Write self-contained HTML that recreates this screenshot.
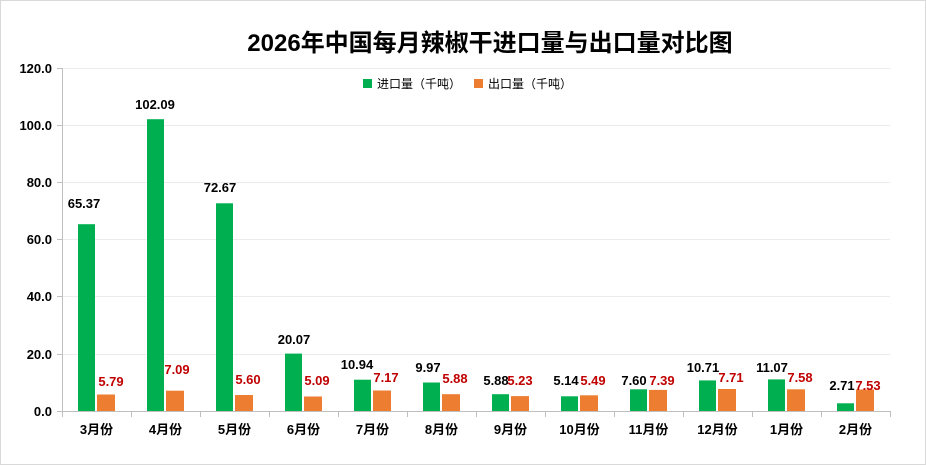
<!DOCTYPE html>
<html><head><meta charset="utf-8"><style>
html,body{margin:0;padding:0;background:#fff}
svg{display:block;font-family:"Liberation Sans","Noto Sans CJK SC",sans-serif}
.g{fill:#00b050}.o{fill:#ed7d31}
.lb{font-size:13px;font-weight:bold;fill:#000;text-anchor:middle}
.lr{font-size:13px;font-weight:bold;fill:#c00000;text-anchor:middle}
.ax{font-size:13px;font-weight:bold;fill:#000;text-anchor:end}
.cx{font-size:13px;font-weight:bold;fill:#000;text-anchor:middle}
</style></head><body>
<svg width="926" height="465" viewBox="0 0 926 465">
<rect x="0.5" y="0.5" width="925" height="464" fill="#fff" stroke="#d9d9d9"/>
<text x="490" y="51" font-size="24" font-weight="bold" text-anchor="middle">2026年中国每月辣椒干进口量与出口量对比图</text>
<g stroke="#ececec" stroke-width="1">
<line x1="62" y1="68.5" x2="890" y2="68.5"/><line x1="62" y1="125.5" x2="890" y2="125.5"/>
<line x1="62" y1="182.5" x2="890" y2="182.5"/><line x1="62" y1="239.5" x2="890" y2="239.5"/>
<line x1="62" y1="296.5" x2="890" y2="296.5"/><line x1="62" y1="354.5" x2="890" y2="354.5"/>
</g>
<g stroke="#bfbfbf" stroke-width="1">
<line x1="62.5" y1="68" x2="62.5" y2="411"/>
<line x1="57" y1="68.5" x2="62" y2="68.5"/><line x1="57" y1="125.5" x2="62" y2="125.5"/><line x1="57" y1="182.5" x2="62" y2="182.5"/><line x1="57" y1="239.5" x2="62" y2="239.5"/><line x1="57" y1="296.5" x2="62" y2="296.5"/><line x1="57" y1="354.5" x2="62" y2="354.5"/><line x1="57" y1="411.5" x2="62" y2="411.5"/>
<line x1="62" y1="411.5" x2="890" y2="411.5"/>
<line x1="62.5" y1="411" x2="62.5" y2="417"/><line x1="131.5" y1="411" x2="131.5" y2="417"/><line x1="200.5" y1="411" x2="200.5" y2="417"/><line x1="269.5" y1="411" x2="269.5" y2="417"/><line x1="338.5" y1="411" x2="338.5" y2="417"/><line x1="407.5" y1="411" x2="407.5" y2="417"/><line x1="476.5" y1="411" x2="476.5" y2="417"/><line x1="545.5" y1="411" x2="545.5" y2="417"/><line x1="614.5" y1="411" x2="614.5" y2="417"/><line x1="683.5" y1="411" x2="683.5" y2="417"/><line x1="752.5" y1="411" x2="752.5" y2="417"/><line x1="821.5" y1="411" x2="821.5" y2="417"/><line x1="890.5" y1="411" x2="890.5" y2="417"/>
</g>
<text class="ax" x="52" y="73">120.0</text><text class="ax" x="52" y="130">100.0</text><text class="ax" x="52" y="187">80.0</text><text class="ax" x="52" y="244">60.0</text><text class="ax" x="52" y="301">40.0</text><text class="ax" x="52" y="359">20.0</text><text class="ax" x="52" y="416">0.0</text>
<rect class="g" x="363" y="79" width="9" height="9"/><text x="377" y="88" font-size="12">进口量（千吨）</text>
<rect class="o" x="474" y="79" width="9" height="9"/><text x="488" y="88" font-size="12">出口量（千吨）</text>
<rect class="g" x="78" y="224.2" width="17" height="186.8"/><rect class="o" x="97" y="394.5" width="18" height="16.5"/>
<rect class="g" x="147" y="119.2" width="17" height="291.8"/><rect class="o" x="166" y="390.7" width="18" height="20.3"/>
<rect class="g" x="216" y="203.3" width="17" height="207.7"/><rect class="o" x="235" y="395" width="18" height="16"/>
<rect class="g" x="285" y="353.6" width="17" height="57.4"/><rect class="o" x="304" y="396.5" width="18" height="14.5"/>
<rect class="g" x="354" y="379.7" width="17" height="31.3"/><rect class="o" x="373" y="390.5" width="18" height="20.5"/>
<rect class="g" x="423" y="382.5" width="17" height="28.5"/><rect class="o" x="442" y="394.2" width="18" height="16.8"/>
<rect class="g" x="492" y="394.2" width="17" height="16.8"/><rect class="o" x="511" y="396.1" width="18" height="14.9"/>
<rect class="g" x="561" y="396.3" width="17" height="14.7"/><rect class="o" x="580" y="395.3" width="18" height="15.7"/>
<rect class="g" x="630" y="389.3" width="17" height="21.7"/><rect class="o" x="649" y="389.9" width="18" height="21.1"/>
<rect class="g" x="699" y="380.4" width="17" height="30.6"/><rect class="o" x="718" y="389" width="18" height="22"/>
<rect class="g" x="768" y="379.4" width="17" height="31.6"/><rect class="o" x="787" y="389.3" width="18" height="21.7"/>
<rect class="g" x="837" y="403.3" width="17" height="7.7"/><rect class="o" x="856" y="389.5" width="18" height="21.5"/>
<text class="lb" x="84" y="208">65.37</text><text class="lr" x="111" y="386">5.79</text>
<text class="lb" x="155" y="109">102.09</text><text class="lr" x="177" y="374">7.09</text>
<text class="lb" x="220" y="192">72.67</text><text class="lr" x="248" y="384">5.60</text>
<text class="lb" x="294" y="344">20.07</text><text class="lr" x="317" y="385">5.09</text>
<text class="lb" x="357" y="369">10.94</text><text class="lr" x="386" y="382">7.17</text>
<text class="lb" x="428" y="372">9.97</text><text class="lr" x="455" y="383">5.88</text>
<text class="lb" x="496" y="385">5.88</text><text class="lr" x="520" y="385">5.23</text>
<text class="lb" x="566" y="385">5.14</text><text class="lr" x="593" y="385">5.49</text>
<text class="lb" x="634" y="385">7.60</text><text class="lr" x="662" y="385">7.39</text>
<text class="lb" x="703" y="372">10.71</text><text class="lr" x="731" y="382">7.71</text>
<text class="lb" x="772" y="372">11.07</text><text class="lr" x="800" y="382">7.58</text>
<text class="lb" x="842" y="390">2.71</text><text class="lr" x="868" y="390">7.53</text>
<text class="cx" x="96.5" y="434">3月份</text><text class="cx" x="165.5" y="434">4月份</text><text class="cx" x="234.5" y="434">5月份</text><text class="cx" x="303.5" y="434">6月份</text><text class="cx" x="372.5" y="434">7月份</text><text class="cx" x="441.5" y="434">8月份</text><text class="cx" x="510.5" y="434">9月份</text><text class="cx" x="579.5" y="434">10月份</text><text class="cx" x="648.5" y="434">11月份</text><text class="cx" x="717.5" y="434">12月份</text><text class="cx" x="786.5" y="434">1月份</text><text class="cx" x="855.5" y="434">2月份</text>
</svg>
</body></html>
